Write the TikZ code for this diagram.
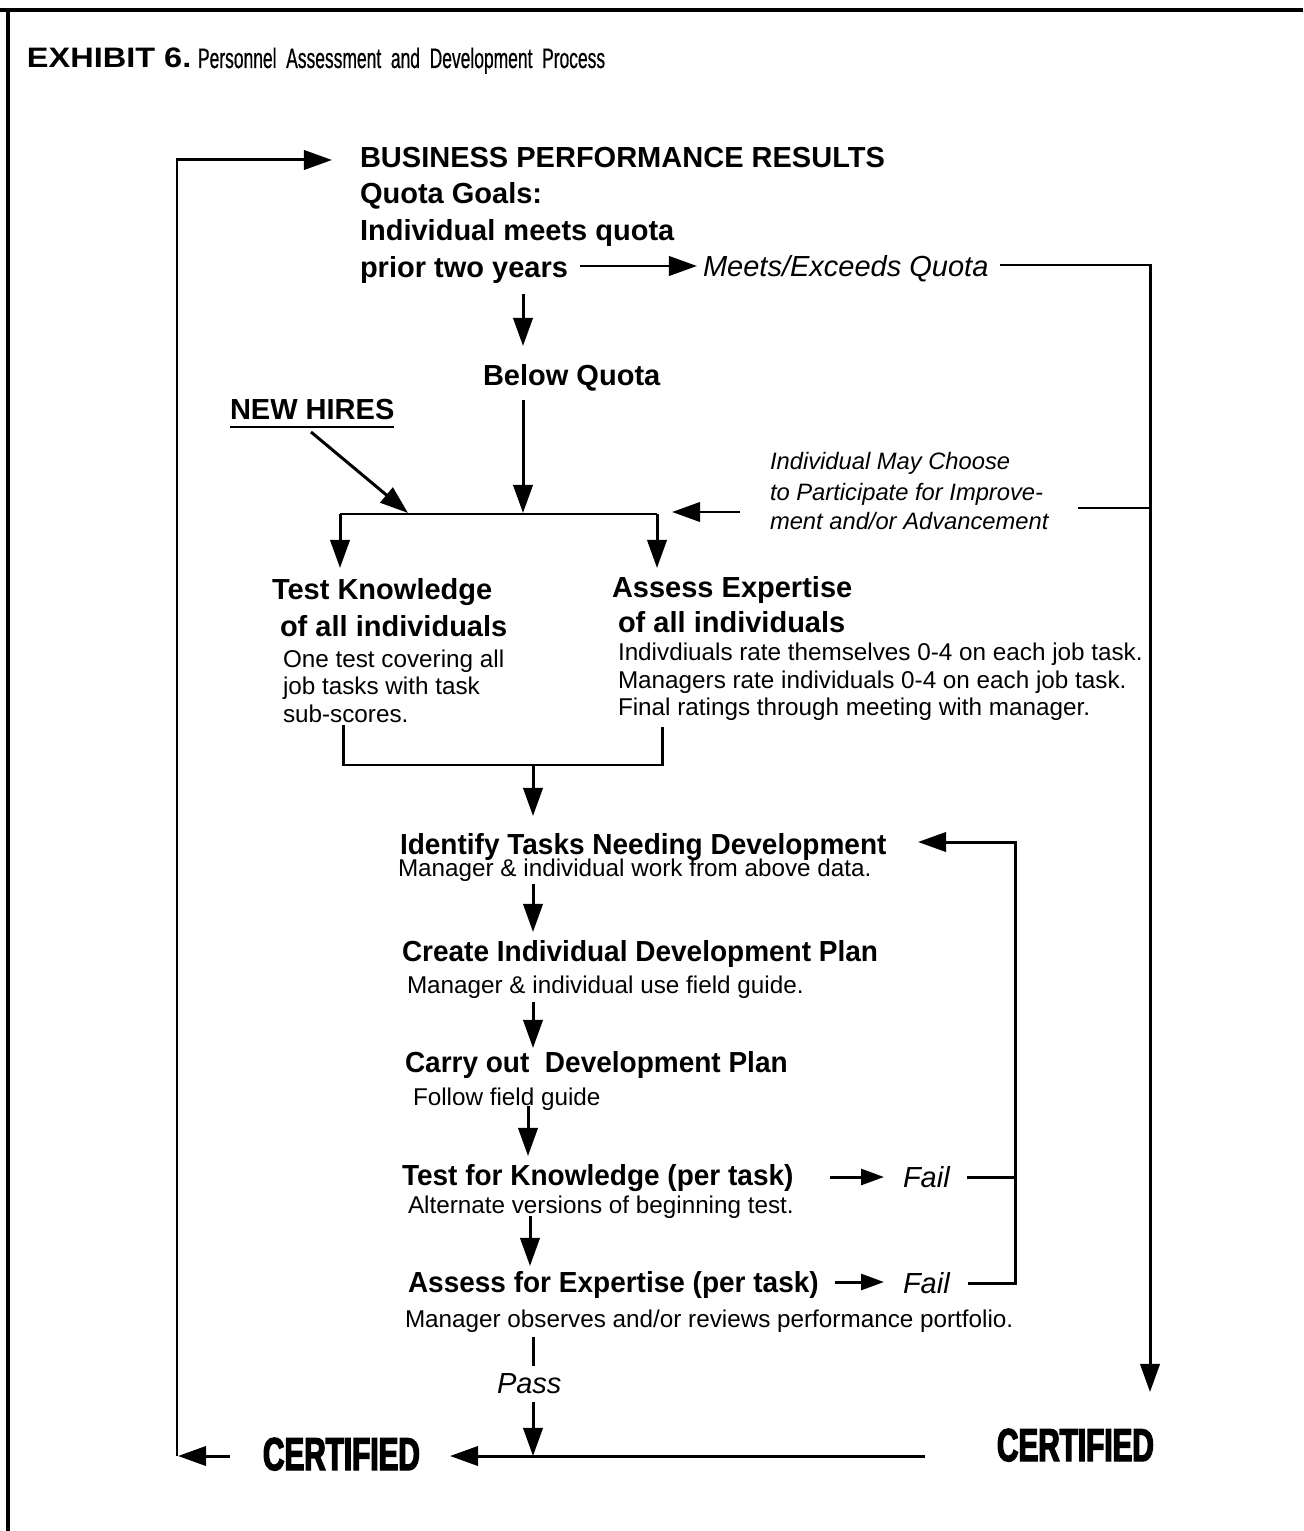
\documentclass[tikz,border=0pt]{standalone}
\usepackage{fontspec}
\setmainfont{Liberation Sans}
\newfontfamily\certfont{Liberation Sans}[FakeStretch=0.645,FakeBold=3]
\newfontfamily\exfont{Liberation Sans}[FakeStretch=1.155]
\newfontfamily\subfont{Liberation Sans}[FakeStretch=0.62,FakeBold=0.6]
\newfontfamily\hdcfam{Liberation Sans}[FakeStretch=0.965]
\usetikzlibrary{arrows.meta}
\newcommand\hdfont{\fontsize{8.25pt}{10pt}\selectfont\bfseries}
\newcommand\hdcfont{\fontsize{8.25pt}{10pt}\hdcfam\bfseries}
\newcommand\rgfont{\fontsize{6.9pt}{8pt}\selectfont}
\newcommand\itlfont{\fontsize{8.25pt}{10pt}\selectfont\itshape}
\newcommand\itsfont{\fontsize{6.75pt}{8pt}\selectfont\itshape}
\tikzset{
  txt/.style={anchor=base west, inner sep=0pt, outer sep=0pt},
  ln/.style={line width=0.85pt},
  arr/.style={ln, -{Triangle[length=8pt,width=5.5pt]}},
  sarr/.style={ln, -{Triangle[length=6.5pt,width=4.5pt]}}
}
\begin{document}
\begin{tikzpicture}[x=0.01cm,y=-0.01cm]
\useasboundingbox (0,0) rectangle (1303,1531);
% frame
\draw[line width=1pt] (0,10) -- (1303,10);
\draw[line width=1pt] (8,10) -- (8,1531);
% title
\node[txt] (ex) at (27,68) {\fontsize{8pt}{9pt}\exfont\bfseries EXHIBIT 6.};
\node[txt] (sub) at (198,68) {\fontsize{8pt}{9pt}\subfont Personnel\ \ Assessment\ \ and\ \ Development\ \ Process};
% top block
\node[txt] (bpr) at (360,168) {\hdfont BUSINESS PERFORMANCE RESULTS};
\node[txt] (qg) at (360,204) {\hdfont Quota Goals:};
\node[txt] (imq) at (360,241) {\hdfont Individual meets quota};
\node[txt] (pty) at (360,278) {\hdfont prior two years};
\node[txt] (meq) at (703,277) {\itlfont Meets/Exceeds Quota};
\node[txt] (bq) at (483,386) {\hdfont Below Quota};
\node[txt] (nh) at (230,420) {\hdfont NEW HIRES};
\draw[line width=0.75pt] ([yshift=-2pt]nh.base west) -- ([yshift=-2pt]nh.base east);
\node[txt] (imc1) at (770,470) {\itsfont Individual May Choose};
\node[txt] (imc2) at (770,501) {\itsfont to Participate for Improve-};
\node[txt] (imc3) at (770,530) {\itsfont ment and/or Advancement};
% test knowledge
\node[txt] (tk1) at (272,600) {\hdfont Test Knowledge};
\node[txt] (tk2) at (280,636) {\hdfont of all individuals};
\node[txt] (tk3) at (283,667) {\rgfont One test covering all};
\node[txt] (tk4) at (283,694) {\rgfont job tasks with task};
\node[txt] (tk5) at (283,722) {\rgfont sub-scores.};
% assess expertise
\node[txt] (ae1) at (612,597) {\hdfont Assess Expertise};
\node[txt] (ae2) at (618,632) {\hdfont of all individuals};
\node[txt] (ae3) at (618,660) {\rgfont Indivdiuals rate themselves 0-4 on each job task.};
\node[txt] (ae4) at (618,688) {\rgfont Managers rate individuals 0-4 on each job task.};
\node[txt] (ae5) at (618,715) {\rgfont Final ratings through meeting with manager.};
% development chain
\node[txt] (id1) at (400,854) {\hdcfont Identify Tasks Needing Development};
\node[txt] (id2) at (398,876) {\rgfont Manager \& individual work from above data.};
\node[txt] (cr1) at (402,961) {\hdcfont Create Individual Development Plan};
\node[txt] (cr2) at (407,993) {\rgfont Manager \& individual use field guide.};
\node[txt] (co1) at (405,1072) {\hdcfont Carry out\ \ Development Plan};
\node[txt] (co2) at (413,1105) {\rgfont Follow field guide};
\node[txt] (tf1) at (402,1185) {\hdcfont Test for Knowledge (per task)};
\node[txt] (tf2) at (408,1213) {\rgfont Alternate versions of beginning test.};
\node[txt] (fl1) at (903,1187) {\itlfont Fail};
\node[txt] (af1) at (408,1292) {\hdcfont Assess for Expertise (per task)};
\node[txt] (af2) at (405,1327) {\rgfont Manager observes and/or reviews performance portfolio.};
\node[txt] (fl2) at (903,1293) {\itlfont Fail};
\node[txt] (pass) at (497,1393) {\itlfont Pass};
\node[txt] (certL) at (263,1470) {\fontsize{13.1pt}{14pt}\certfont\bfseries CERTIFIED};
\node[txt] (certR) at (997,1461) {\fontsize{13.1pt}{14pt}\certfont\bfseries CERTIFIED};
% coordinates
\coordinate (LB) at (177,1456);
\coordinate (LT) at (177,160);
\coordinate (LTe) at (332,160);
\coordinate (CLs) at (230,1456);
\coordinate (CLe) at (178,1456);
\coordinate (Ms) at (580,266);
\coordinate (Me) at (697,266);
\coordinate (Rs) at (1000,265);
\coordinate (Rc) at (1150,265);
\coordinate (Re) at (1150,1392);
\coordinate (Ps) at (1078,508);
\coordinate (Pe) at (1150,508);
\coordinate (D1s) at (523,294);
\coordinate (D1e) at (523,346);
\coordinate (D2s) at (523,400);
\coordinate (D2e) at (523,513);
\coordinate (NHs) at (311,432);
\coordinate (NHe) at (408,513);
\coordinate (BarL) at (340,514);
\coordinate (BarR) at (657,514);
\coordinate (BarLe) at (340,568);
\coordinate (BarRe) at (657,568);
\coordinate (IMs) at (740,512);
\coordinate (IMe) at (672,512);
\coordinate (BrL) at (343,725);
\coordinate (BrLb) at (343,765);
\coordinate (BrRb) at (662,765);
\coordinate (BrR) at (662,727);
\coordinate (BrM) at (533,765);
\coordinate (BrMe) at (533,816);
\coordinate (A1s) at (533,884);
\coordinate (A1e) at (533,932);
\coordinate (A2s) at (533,1002);
\coordinate (A2e) at (533,1048);
\coordinate (A3s) at (528,1106);
\coordinate (A3e) at (528,1156);
\coordinate (A4s) at (530,1216);
\coordinate (A4e) at (530,1266);
\coordinate (F1s) at (830,1177);
\coordinate (F1e) at (884,1177);
\coordinate (F1ls) at (967,1177);
\coordinate (F1le) at (1015,1177);
\coordinate (F2s) at (835,1282);
\coordinate (F2e) at (884,1282);
\coordinate (F2ls) at (968,1283);
\coordinate (F2le) at (1015,1283);
\coordinate (RLt) at (1015,842);
\coordinate (RLe) at (918,842);
\coordinate (Pa1) at (533,1337);
\coordinate (Pa2) at (533,1366);
\coordinate (Pa3) at (533,1402);
\coordinate (Pa4) at (533,1456);
\coordinate (Bs) at (925,1456);
\coordinate (Be) at (450,1456);
% connectors
\draw[arr] (LB) -- (LT) -- (LTe);
\draw[arr] (CLs) -- (CLe);
\draw[arr] (Ms) -- (Me);
\draw[arr] (Rs) -- (Rc) -- (Re);
\draw[ln] (Ps) -- (Pe);
\draw[arr] (D1s) -- (D1e);
\draw[arr] (D2s) -- (D2e);
\draw[arr] (NHs) -- (NHe);
\draw[ln] (BarL) -- (BarR);
\draw[arr] (BarL) -- (BarLe);
\draw[arr] (BarR) -- (BarRe);
\draw[arr] (IMs) -- (IMe);
\draw[ln] (BrL) -- (BrLb) -- (BrRb) -- (BrR);
\draw[arr] (BrM) -- (BrMe);
\draw[arr] (A1s) -- (A1e);
\draw[arr] (A2s) -- (A2e);
\draw[arr] (A3s) -- (A3e);
\draw[arr] (A4s) -- (A4e);
\draw[sarr] (F1s) -- (F1e);
\draw[ln] (F1ls) -- (F1le);
\draw[sarr] (F2s) -- (F2e);
\draw[arr] (F2ls) -- (F2le) -- (RLt) -- (RLe);
\draw[ln] (Pa1) -- (Pa2);
\draw[arr] (Pa3) -- (Pa4);
\draw[arr] (Bs) -- (Be);
\end{tikzpicture}
\end{document}
